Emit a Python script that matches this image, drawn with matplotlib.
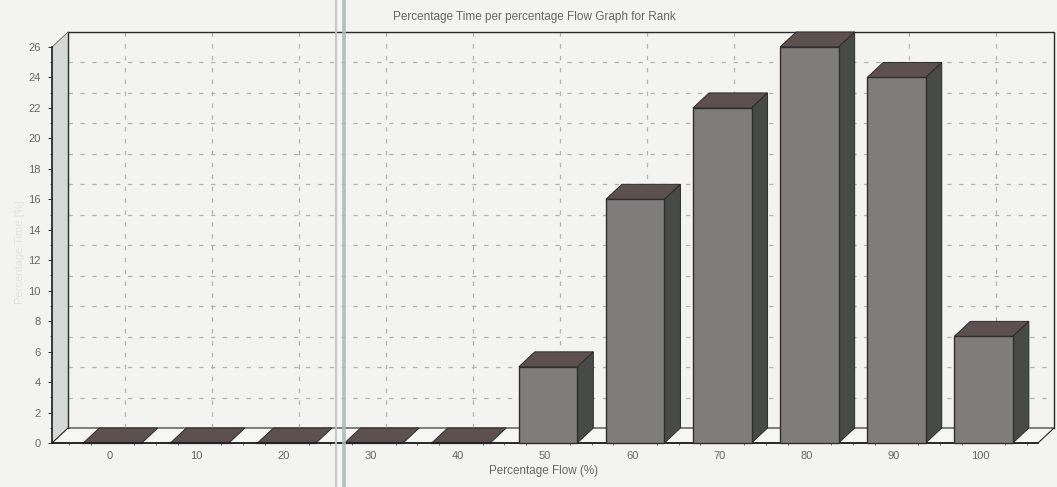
import numpy as np
import matplotlib
matplotlib.use("Agg")
import matplotlib.pyplot as plt
from matplotlib.lines import Line2D
from matplotlib.transforms import ScaledTranslation

# values
flow = ["0", "10", "20", "30", "40", "50", "60", "70", "80", "90", "100"]
time_pct = [0, 0, 0, 0, 0, 5, 16, 22, 26, 24, 7]
y_ticks = list(range(0, 27, 2))

title = "Percentage Time per percentage Flow Graph for Rank"
x_label = "Percentage Flow (%)"
y_label = "Percentage Time [%]"

paper = "#f3f4f2"
text_col = "#666666"
grid_col = "#b2b4b1"
dx = 0.184   # fake 3d depth in data units
dy = 0.985
bar_w = 0.672
grid_off = 0.14

plt.rcParams["font.family"] = ["Liberation Sans", "DejaVu Sans"]

W, H = 1057, 487
fig = plt.figure(figsize=(W / 100, H / 100), dpi=100, facecolor=paper)
ax = fig.add_axes([52 / W, (H - 443) / H, 986 / W, 396 / H])
ax.set_facecolor("none")
ax.set_xlim(-0.695, 10.625)
ax.set_ylim(0, 26)
for s in ax.spines.values():
    s.set_visible(False)

x = np.arange(len(flow))
x0, x1 = ax.get_xlim()
y1 = ax.get_ylim()[1]

# left wall and floor
ax.fill([x0, x0 + dx, x0 + dx, x0], [0, dy, y1 + dy, y1], fc="#d6d8d7", ec="none", clip_on=False, zorder=1)
ax.fill([x0, x1, x1 + dx, x0 + dx], [0, 0, dy, dy], fc="#f6f7f5", ec="#222222", lw=0.8, clip_on=False, zorder=1)

# grid on the back wall
for v in y_ticks[1:-1]:
    ax.plot([x0 + dx, x1 + dx], [v + dy, v + dy], color=grid_col, lw=0.9, ls=(0, (3.5, 6)), clip_on=False, zorder=2)
for c in x:
    ax.plot([c + grid_off, c + grid_off], [dy, y1 + dy], color=grid_col, lw=0.9, ls=(0, (3.5, 6)), clip_on=False, zorder=2)

# frame
ax.plot([x0 + dx, x0 + dx, x1 + dx, x1 + dx], [dy, y1 + dy, y1 + dy, dy], color="#2a2a2a", lw=1.0, clip_on=False, zorder=3)
ax.plot([x0, x0 + dx], [y1, y1 + dy], color="#666666", lw=0.6, clip_on=False, zorder=3)
ax.plot([x0, x0], [0, y1], color="#1c1c1c", lw=1.2, clip_on=False, zorder=3)
ax.plot([x0, x1], [0, 0], color="#1c1c1c", lw=1.2, clip_on=False, zorder=3)

# bars, left to right
for i, (c, v) in enumerate(zip(x, time_pct)):
    l, r = c - bar_w / 2, c + bar_w / 2
    z = 4 + i * 0.1
    ax.fill([l, r, r + dx, l + dx], [v, v, v + dy, v + dy], fc="#5d5150", ec="#2c2a2a", lw=0.7, clip_on=False, zorder=z)
    if v > 0:
        ax.fill([r, r + dx, r + dx, r], [0, dy, v + dy, v], fc="#484a48", ec="#2c2a2a", lw=0.7, clip_on=False, zorder=z)
        ax.bar(c, v, width=bar_w, color="#7f7d7b", edgecolor="#2e2e2e", linewidth=1.0, clip_on=False, zorder=z + 0.01)
    else:
        ax.plot([l, r], [0, 0], color="#222222", lw=1.6, clip_on=False, zorder=z)

# ticks and labels
ax.set_xticks(x, flow)
ax.set_yticks(y_ticks, [str(v) for v in y_ticks])
ax.set_xticks(np.arange(-0.5, 10.6, 0.25), minor=True)
ax.set_yticks(np.arange(0, 26.1, 1), minor=True)
ax.tick_params(axis="x", which="major", length=0, pad=6, labelsize=8, labelcolor=text_col)
ax.tick_params(axis="y", which="major", length=3, width=0.7, color="#333333", pad=5, labelsize=8, labelcolor=text_col)
ax.tick_params(axis="x", which="minor", length=1.5, width=0.6, color="#555555")
ax.tick_params(axis="y", which="minor", length=1.5, width=0.6, color="#555555")
shift = ScaledTranslation(-3 / 100, 0, fig.dpi_scale_trans)
for lab in ax.get_xticklabels():
    lab.set_transform(lab.get_transform() + shift)

fig.text(534 / W, 1 - 17 / H, title, ha="center", va="center", fontsize=8.5, color=text_col)
fig.text(543 / W, 1 - 471 / H, x_label, ha="center", va="center", fontsize=8.4, color=text_col)
fig.text(20 / W, 1 - 252 / H, y_label, ha="center", va="center", rotation=90, fontsize=8, color="#e2e3e1")

# scanner fold running down the page
for px, lw_, col in [(336, 1.6, "#bcc8c6"), (343.5, 2.6, "#a9bbb8")]:
    fig.add_artist(Line2D([px / W, px / W], [0, 1], color=col, lw=lw_, alpha=0.9, zorder=0.5))

fig.savefig("out.png", dpi=100, facecolor=paper)
